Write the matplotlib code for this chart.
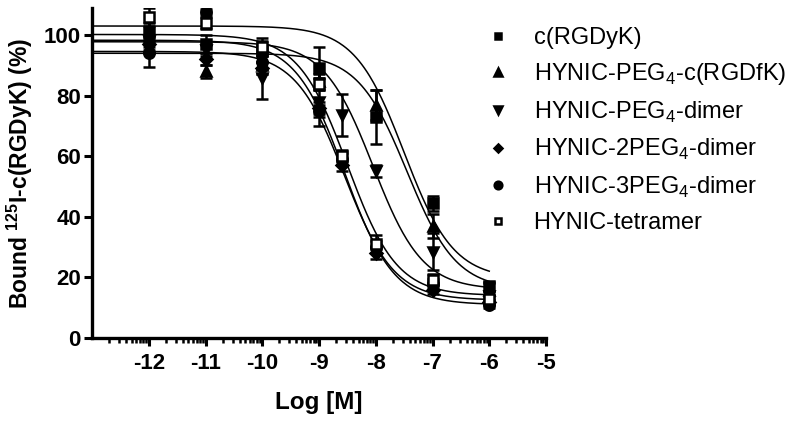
import numpy as np
import matplotlib
matplotlib.use("Agg")
import matplotlib.pyplot as plt
from matplotlib.lines import Line2D

plt.rcParams['font.family'] = ['Liberation Sans', 'DejaVu Sans']
plt.rcParams['mathtext.fontset'] = 'custom'
plt.rcParams['mathtext.rm'] = 'Liberation Sans'
plt.rcParams['mathtext.bf'] = 'Liberation Sans:bold'

# concentrations (log M)
x_mono = [-12, -11, -10, -9, -8, -7, -6]
x_multi = [-12, -11, -10, -9, -8.6, -8, -7, -6]

names = ['c(RGDyK)', r'HYNIC-PEG$_4$-c(RGDfK)', r'HYNIC-PEG$_4$-dimer',
         r'HYNIC-2PEG$_4$-dimer', r'HYNIC-3PEG$_4$-dimer', 'HYNIC-tetramer']

# bound % (mean) and SEM
y_rgdyk = [101, 97, 95, 89, 73, 44.5, 17]
e_rgdyk = [3, 3, 4, 7, 9, 2.5, 1.5]
y_peg4_rgdfk = [96, 88, 90, 85, 77, 37, 16]
e_peg4_rgdfk = [2, 2, 3, 2, 5, 4, 2]
y_peg4_dimer = [98, 95, 86, 78, 73.6, 55, 28.5, 14]
e_peg4_dimer = [2, 2, 7, 8, 7, 2, 6, 1.5]
y_2peg4_dimer = [97, 92, 89, 76, 57, 28, 16, 12]
e_2peg4_dimer = [2, 2, 2, 2, 2, 2, 1.5, 1]
y_3peg4_dimer = [94, 107.6, 91, 75, 59, 30, 18, 11]
e_3peg4_dimer = [4.5, 1, 2, 2, 2, 2, 1.5, 1]
y_tetramer = [106, 104, 96, 84, 60, 31, 19, 13]
e_tetramer = [3, 2, 2, 2, 2, 3, 2, 1]

xs = [x_mono, x_mono, x_multi, x_multi, x_multi, x_multi]
ys = [y_rgdyk, y_peg4_rgdfk, y_peg4_dimer, y_2peg4_dimer, y_3peg4_dimer, y_tetramer]
es = [e_rgdyk, e_peg4_rgdfk, e_peg4_dimer, e_2peg4_dimer, e_3peg4_dimer, e_tetramer]

# one-site competition fit parameters
fit_top = [103, 94, 97.8, 94.6, 98.3, 100.2]
fit_bottom = [19.5, 16, 16, 12.5, 11, 14]
fit_logic50 = [-7.5, -7.45, -8.05, -8.55, -8.55, -8.5]

markers = ['s', '^', 'v', 'D', 'o', 's']
msizes = [7, 7.5, 7.5, 6, 7.5, 7]
faces = ['black', 'black', 'black', 'black', 'black', 'white']

fig = plt.figure(figsize=(8, 4.26), dpi=100)
ax = fig.add_axes([0.115, 0.2066, 0.5675, 0.775])

xx = np.linspace(-13, -6, 300)
for i in range(len(names)):
    yy = fit_bottom[i] + (fit_top[i] - fit_bottom[i]) / (1 + 10 ** (xx - fit_logic50[i]))
    ax.plot(xx, yy, color='black', lw=1.1, zorder=2)

for i in range(len(names)):
    ax.errorbar(xs[i], ys[i], yerr=es[i], fmt='none', ecolor='black',
                elinewidth=1.8, capsize=4.5, capthick=1.8, zorder=3)
    ax.plot(xs[i], ys[i], linestyle='none', marker=markers[i], ms=msizes[i],
            mfc=faces[i], mec='black', mew=1.8, zorder=4)

ax.set_xlim(-13, -5)
ax.set_ylim(0, 109)
ax.spines['top'].set_visible(False)
ax.spines['right'].set_visible(False)
ax.spines['left'].set_linewidth(2.4)
ax.spines['bottom'].set_linewidth(2.4)

ax.set_xticks(range(-12, -4))
ax.set_xticklabels([str(v) for v in range(-12, -4)])
minor = [d + np.log10(k) for d in range(-13, -5) for k in range(2, 10)]
ax.set_xticks(minor, minor=True)
ax.set_yticks(range(0, 101, 20))
ax.tick_params(axis='both', which='major', direction='out', length=6, width=2.2,
               labelsize=16, pad=2)
ax.tick_params(axis='x', which='major', pad=5)
ax.tick_params(axis='x', which='minor', direction='out', length=3.5, width=1.8)
for lab in ax.get_xticklabels() + ax.get_yticklabels():
    lab.set_fontweight('bold')

ax.set_xlabel('Log [M]', fontsize=17.5, fontweight='bold', labelpad=12)
ax.set_ylabel(r'Bound $^{\mathbf{125}}$I-c(RGDyK) (%)', fontsize=16.5, fontweight='bold', labelpad=6)

# legend: markers only
handles = [Line2D([], [], linestyle='none', marker=markers[i], ms=msizes[i] - 2,
                  mfc=faces[i], mec='black', mew=1.8) for i in range(len(names))]
fig.legend(handles, names, loc='upper left', bbox_to_anchor=(0.608, 0.937),
           frameon=False, fontsize=17, handlelength=1.0, handletextpad=1.0,
           labelspacing=0.52, borderaxespad=0, borderpad=0)

fig.savefig('out.png', dpi=100)
